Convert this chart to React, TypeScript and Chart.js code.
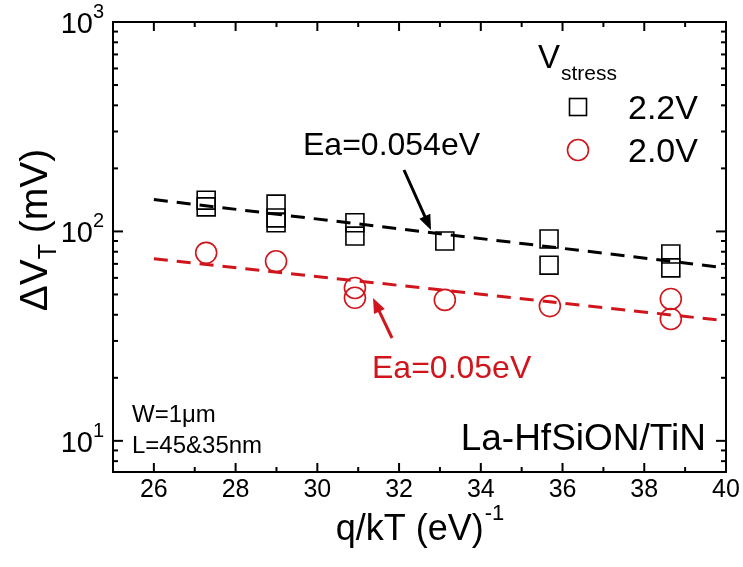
import React, { useEffect, useRef } from 'react';
import { Chart, registerables } from 'chart.js';
Chart.register(...registerables);

// Data
const xHigh = [27.28, 27.28, 28.99, 28.99, 28.99, 30.92, 30.92, 33.12, 35.67, 35.67, 38.65, 38.65];
const yHigh = [141, 131, 135, 116, 110, 110, 95, 90, 92, 69, 78, 67];
const xLow = [27.28, 28.99, 30.92, 30.92, 33.12, 35.69, 38.65, 38.65];
const yLow = [79, 72, 53.7, 48.2, 47.1, 44, 47.6, 38.2];
const fitX = [26, 40];
const fitHigh = [142, 67];
const fitLow = [74, 37.4];
const xMajorTicks = [26, 28, 30, 32, 34, 36, 38, 40];
const xMinorTicks = [25, 27, 29, 31, 33, 35, 37, 39];
const yMajorTicks = [10, 100, 1000];
const yMajorExp = ['1', '2', '3'];
const yMinorTicks = [8, 9, 20, 30, 40, 50, 60, 70, 80, 90, 200, 300, 400, 500, 600, 700, 800, 900];
const seriesLabels = ['2.2V', '2.0V'];

const BLACK = '#000000';
const RED = '#d0161c';
const FONT = '"Liberation Sans", Arial, sans-serif';

const pts = (xs: number[], ys: number[]) => xs.map((x, i) => ({ x, y: ys[i] }));

function arrow(ctx: CanvasRenderingContext2D, x0: number, y0: number, x1: number, y1: number, color: string) {
  const ang = Math.atan2(y1 - y0, x1 - x0);
  const hl = 15, hw = 6;
  ctx.save();
  ctx.strokeStyle = color;
  ctx.fillStyle = color;
  ctx.lineWidth = 3;
  ctx.beginPath();
  ctx.moveTo(x0, y0);
  ctx.lineTo(x1 - Math.cos(ang) * hl * 0.8, y1 - Math.sin(ang) * hl * 0.8);
  ctx.stroke();
  ctx.beginPath();
  ctx.moveTo(x1, y1);
  ctx.lineTo(x1 - Math.cos(ang) * hl + Math.sin(ang) * hw, y1 - Math.sin(ang) * hl - Math.cos(ang) * hw);
  ctx.lineTo(x1 - Math.cos(ang) * hl - Math.sin(ang) * hw, y1 - Math.sin(ang) * hl + Math.cos(ang) * hw);
  ctx.closePath();
  ctx.fill();
  ctx.restore();
}

const decorPlugin = {
  id: 'decor',
  afterDraw(chart: any) {
    const ctx: CanvasRenderingContext2D = chart.ctx;
    const a = chart.chartArea;
    const xs = chart.scales.x;
    const ys = chart.scales.y;
    ctx.save();
    ctx.strokeStyle = BLACK;
    ctx.fillStyle = BLACK;
    ctx.lineWidth = 2;
    ctx.strokeRect(a.left, a.top, a.right - a.left, a.bottom - a.top);
    const tick = (x0: number, y0: number, x1: number, y1: number) => {
      ctx.beginPath();
      ctx.moveTo(x0, y0);
      ctx.lineTo(x1, y1);
      ctx.stroke();
    };
    xMajorTicks.forEach((v) => {
      const px = xs.getPixelForValue(v);
      tick(px, a.bottom, px, a.bottom - 9);
      tick(px, a.top, px, a.top + 9);
    });
    xMinorTicks.forEach((v) => {
      const px = xs.getPixelForValue(v);
      tick(px, a.bottom, px, a.bottom - 5);
      tick(px, a.top, px, a.top + 5);
    });
    yMajorTicks.forEach((v) => {
      const py = ys.getPixelForValue(v);
      tick(a.left, py, a.left + 10, py);
      tick(a.right, py, a.right - 10, py);
    });
    yMinorTicks.forEach((v) => {
      const py = ys.getPixelForValue(v);
      tick(a.left, py, a.left + 5, py);
      tick(a.right, py, a.right - 5, py);
    });
    // x tick labels
    ctx.font = `25px ${FONT}`;
    ctx.textAlign = 'center';
    ctx.textBaseline = 'alphabetic';
    xMajorTicks.forEach((v) => {
      ctx.fillText(String(v), xs.getPixelForValue(v), a.bottom + 25);
    });
    // y tick labels
    yMajorTicks.forEach((v, i) => {
      const py = ys.getPixelForValue(v);
      ctx.font = `29px ${FONT}`;
      ctx.textAlign = 'right';
      ctx.fillText('10', a.left - 20, py + 11);
      ctx.font = `20px ${FONT}`;
      ctx.textAlign = 'left';
      ctx.fillText(yMajorExp[i], a.left - 20, py - 4);
    });
    // x title
    ctx.font = `36px ${FONT}`;
    const t1 = 'q/kT (eV)';
    const w1 = ctx.measureText(t1).width;
    ctx.font = `22px ${FONT}`;
    const w2 = ctx.measureText('-1').width;
    const cx = (a.left + a.right) / 2;
    const sx = cx - (w1 + w2) / 2;
    ctx.textAlign = 'left';
    ctx.font = `36px ${FONT}`;
    ctx.fillText(t1, sx, a.bottom + 68);
    ctx.font = `22px ${FONT}`;
    ctx.fillText('-1', sx + w1 + 1, a.bottom + 48);
    // y title
    ctx.save();
    ctx.translate(47, 230);
    ctx.rotate(-Math.PI / 2);
    ctx.font = `39px ${FONT}`;
    const p1 = '\u0394V';
    const p3 = ' (mV)';
    const wp1 = ctx.measureText(p1).width;
    const wp3 = ctx.measureText(p3).width;
    ctx.font = `25px ${FONT}`;
    const wp2 = ctx.measureText('T').width;
    let tx = -(wp1 + wp2 + wp3) / 2;
    ctx.font = `39px ${FONT}`;
    ctx.fillText(p1, tx, 0);
    tx += wp1;
    ctx.font = `25px ${FONT}`;
    ctx.fillText('T', tx, 9);
    tx += wp2;
    ctx.font = `39px ${FONT}`;
    ctx.fillText(p3, tx, 0);
    ctx.restore();
    // legend
    ctx.font = `33px ${FONT}`;
    ctx.textAlign = 'left';
    ctx.fillStyle = BLACK;
    ctx.fillText('V', 538, 68);
    ctx.font = `21px ${FONT}`;
    ctx.fillText('stress', 561, 80);
    ctx.lineWidth = 1.6;
    ctx.strokeStyle = BLACK;
    ctx.strokeRect(578 - 8.5, 107 - 8.5, 17, 17);
    ctx.strokeStyle = RED;
    ctx.beginPath();
    ctx.arc(578, 150, 10.5, 0, Math.PI * 2);
    ctx.stroke();
    ctx.font = `34px ${FONT}`;
    ctx.fillStyle = BLACK;
    ctx.fillText(seriesLabels[0], 628, 119);
    ctx.fillText(seriesLabels[1], 628, 162);
    // annotations
    ctx.font = `32px ${FONT}`;
    ctx.fillStyle = BLACK;
    ctx.fillText('Ea=0.054eV', 303, 155);
    ctx.fillStyle = RED;
    ctx.fillText('Ea=0.05eV', 372, 378);
    arrow(ctx, 404, 170, 431, 230, BLACK);
    arrow(ctx, 392, 338, 373, 298, RED);
    ctx.fillStyle = BLACK;
    ctx.font = `24px ${FONT}`;
    ctx.fillText('W=1\u03bcm', 132, 422);
    ctx.fillText('L=45&35nm', 132, 453);
    ctx.font = `37px ${FONT}`;
    ctx.textAlign = 'right';
    ctx.fillText('La-HfSiON/TiN', 706, 450);
    ctx.restore();
  },
};

export default function App() {
  const ref = useRef<HTMLCanvasElement>(null);
  useEffect(() => {
    if (!ref.current) return;
    const chart = new Chart(ref.current, {
      type: 'scatter',
      data: {
        datasets: [
          {
            label: 'fit 2.2V',
            data: pts(fitX, fitHigh),
            showLine: true,
            borderColor: BLACK,
            borderWidth: 3,
            borderDash: [14, 9],
            pointRadius: 0,
          },
          {
            label: 'fit 2.0V',
            data: pts(fitX, fitLow),
            showLine: true,
            borderColor: RED,
            borderWidth: 3,
            borderDash: [14, 9],
            pointRadius: 0,
          },
          {
            label: seriesLabels[0],
            data: pts(xHigh, yHigh),
            pointStyle: 'rect',
            pointRadius: 12.7,
            borderColor: BLACK,
            backgroundColor: 'rgba(0,0,0,0)',
            borderWidth: 1.6,
          },
          {
            label: seriesLabels[1],
            data: pts(xLow, yLow),
            pointStyle: 'circle',
            pointRadius: 10.5,
            borderColor: RED,
            backgroundColor: 'rgba(0,0,0,0)',
            borderWidth: 1.6,
          },
        ],
      },
      options: {
        responsive: false,
        animation: false,
        layout: { padding: { left: 113, top: 22, right: 17, bottom: 95 } },
        plugins: { legend: { display: false }, tooltip: { enabled: false } },
        scales: {
          x: { type: 'linear', min: 25, max: 40, display: false },
          y: { type: 'logarithmic', min: 7.1, max: 1000, display: false },
        },
      },
      plugins: [decorPlugin],
    });
    return () => chart.destroy();
  }, []);
  return (
    <div style={{ position: 'fixed', left: 0, top: 0, width: 743, height: 567, background: '#fff' }}>
      <canvas ref={ref} width={743} height={567} style={{ width: 743, height: 567 }} />
    </div>
  );
}
